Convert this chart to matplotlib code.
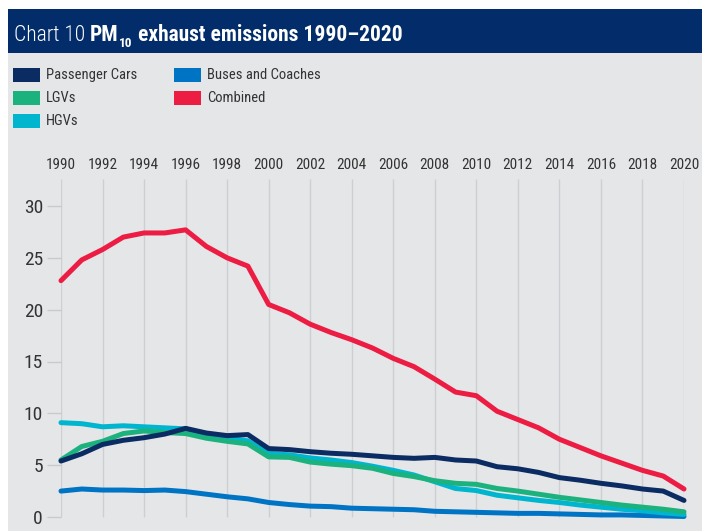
import matplotlib
matplotlib.use('Agg')
import matplotlib.pyplot as plt
from matplotlib.patches import Rectangle
from matplotlib.text import Annotation

# Data
years = list(range(1990, 2021))
passenger_cars = [5.4, 6.1, 7.0, 7.4, 7.65, 8.0, 8.55, 8.1, 7.85, 7.95, 6.6, 6.5, 6.3, 6.15, 6.05,
                  5.9, 5.75, 5.66, 5.75, 5.5, 5.4, 4.85, 4.65, 4.3, 3.8, 3.55, 3.25, 3.0, 2.7, 2.5, 1.6]
lgvs = [5.5, 6.8, 7.3, 8.05, 8.3, 8.15, 8.05, 7.6, 7.3, 7.05, 5.8, 5.75, 5.3, 5.1, 4.95,
        4.7, 4.2, 3.9, 3.5, 3.25, 3.15, 2.75, 2.5, 2.2, 1.9, 1.65, 1.4, 1.15, 0.95, 0.75, 0.5]
hgvs = [9.1, 9.0, 8.7, 8.8, 8.7, 8.6, 8.5, 8.0, 7.6, 7.35, 6.15, 6.0, 5.7, 5.5, 5.25,
        4.9, 4.5, 4.05, 3.4, 2.75, 2.55, 2.1, 1.85, 1.6, 1.4, 1.15, 0.95, 0.75, 0.6, 0.4, 0.25]
buses = [2.5, 2.7, 2.6, 2.6, 2.55, 2.6, 2.45, 2.2, 1.95, 1.75, 1.4, 1.2, 1.05, 1.0, 0.85,
         0.8, 0.75, 0.7, 0.55, 0.5, 0.45, 0.4, 0.35, 0.35, 0.3, 0.25, 0.2, 0.2, 0.15, 0.1, 0.05]
combined = [22.8, 24.8, 25.8, 27.0, 27.4, 27.4, 27.7, 26.1, 25.0, 24.2, 20.5, 19.7, 18.6, 17.8, 17.1,
            16.3, 15.3, 14.5, 13.3, 12.05, 11.7, 10.2, 9.4, 8.6, 7.5, 6.7, 5.9, 5.2, 4.5, 3.95, 2.7]

year_ticks = list(range(1990, 2021, 2))
y_ticks = [0, 5, 10, 15, 20, 25, 30]

NAVY = '#0b2c63'
GREEN = '#1bb27d'
CYAN = '#00b6cf'
BLUE = '#0074c4'
RED = '#ec1c43'
BG = '#e5e6e8'
TXT = '#333333'

plt.rcParams['font.family'] = ['Roboto Condensed', 'Liberation Sans Narrow', 'Roboto', 'DejaVu Sans']

W, H = 702, 531
fig = plt.figure(figsize=(W / 100, H / 100), dpi=100, facecolor='white')

# grey panel and title bar (pixel coords -> figure fraction)
fig.patches.append(Rectangle((8 / W, 0), 1, 1 - 53 / H, transform=fig.transFigure,
                             facecolor=BG, edgecolor='none', zorder=-5))
fig.patches.append(Rectangle((8 / W, 1 - 53 / H), 1, 44 / H, transform=fig.transFigure,
                             facecolor='#032d6a', edgecolor='none', zorder=-5))

# title, built from pieces
t1 = fig.text(14 / W, 1 - 41 / H, 'Chart 10 ', color='white', fontsize=15.5,
              fontweight='light', va='baseline')
t2 = fig.add_artist(Annotation('PM', xy=(1, 0), xycoords=t1, color='white', fontsize=15.5,
                               fontweight='bold', va='bottom', ha='left', annotation_clip=False))
t3 = fig.add_artist(Annotation('10', xy=(1, 0), xycoords=t2, xytext=(0.3, -3),
                               textcoords='offset points', color='white', fontsize=9.5,
                               fontweight='bold', va='bottom', ha='left', annotation_clip=False))
t4 = fig.add_artist(Annotation(' exhaust emissions 1990\u20132020', xy=(1, 0), xycoords=(t3, t2),
                               color='white', fontsize=15.5, fontweight='bold', va='bottom',
                               ha='left', annotation_clip=False))

# legend drawn by hand
legend_items = [('Passenger Cars', NAVY, 13, 75), ('LGVs', GREEN, 13, 98), ('HGVs', CYAN, 13, 121),
                ('Buses and Coaches', BLUE, 174, 75), ('Combined', RED, 174, 98)]
for label, col, px, py in legend_items:
    fig.patches.append(Rectangle((px / W, 1 - (py + 7) / H), 27 / W, 14 / H,
                                 transform=fig.transFigure, facecolor=col, edgecolor='none'))
    fig.text((px + 33) / W, 1 - py / H, label, color=TXT, fontsize=10.5, va='center')

# main axes
y0, y1 = -1, 33
left_px, right_px = 61, 684
ppu = (517 - 206) / 30.0
bottom_px = 517 - y0 * ppu
top_px = 517 - y1 * ppu
ax = fig.add_axes([left_px / W, 1 - bottom_px / H, (right_px - left_px) / W, (bottom_px - top_px) / H])
ax.set_facecolor('none')
ax.set_xlim(1990, 2020)
ax.set_ylim(y0, y1)
for s in ax.spines.values():
    s.set_visible(False)

ax.vlines(year_ticks, 0, 32.6, color='#cdcfd2', linewidth=1, zorder=1)

lw = 3.6
ax.plot(years, buses, color=BLUE, lw=lw, solid_capstyle='round', zorder=3, clip_on=False)
ax.plot(years, hgvs, color=CYAN, lw=lw, solid_capstyle='round', zorder=4, clip_on=False)
ax.plot(years, lgvs, color=GREEN, lw=lw, solid_capstyle='round', zorder=5, clip_on=False)
ax.plot(years, passenger_cars, color=NAVY, lw=lw, solid_capstyle='round', zorder=6, clip_on=False)
ax.plot(years, combined, color=RED, lw=lw, solid_capstyle='round', zorder=7, clip_on=False)

ax.set_yticks(y_ticks)
ax.set_yticklabels([str(v) for v in y_ticks])
ax.tick_params(axis='y', length=10, width=1, color='#c8cacd', pad=3, labelsize=14, labelcolor=TXT)
ax.xaxis.tick_top()
ax.set_xticks(year_ticks)
ax.set_xticklabels([str(y) for y in year_ticks])
ax.tick_params(axis='x', length=0, pad=2, labelsize=11, labelcolor=TXT)

fig.savefig('out.png', dpi=100, facecolor='white')
